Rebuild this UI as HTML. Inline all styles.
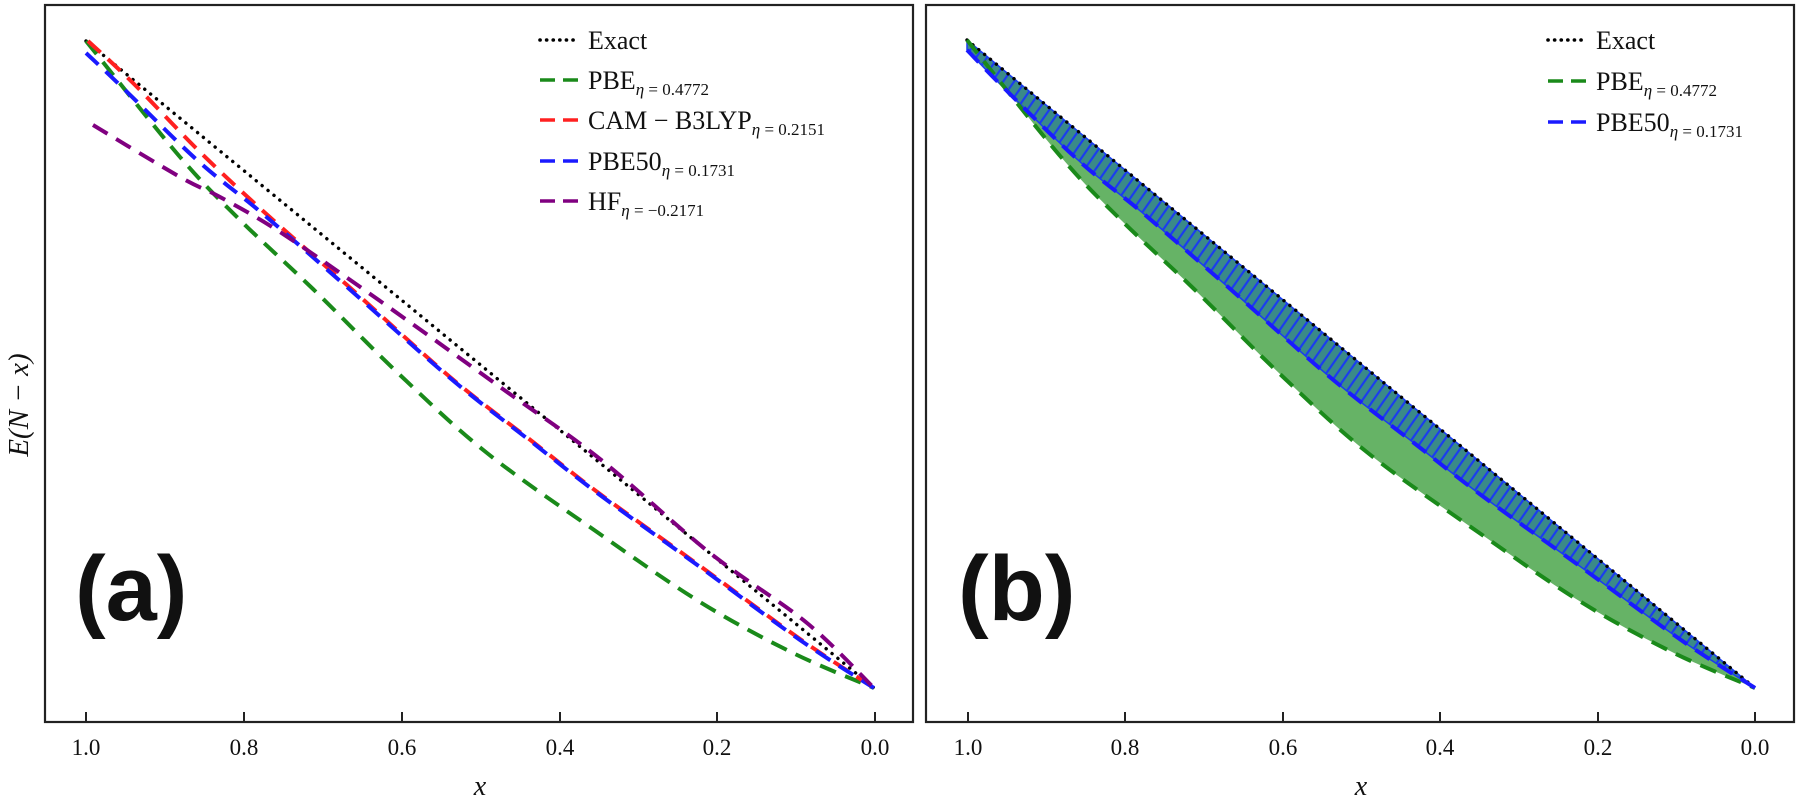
<!DOCTYPE html>
<html><head><meta charset="utf-8">
<style>
html,body{margin:0;padding:0;background:#fff;}
svg{display:block;}
text{font-family:"Liberation Serif",serif;fill:#111;}
</style></head>
<body>
<svg id="s" width="1801" height="799" viewBox="0 0 1801 799" xmlns="http://www.w3.org/2000/svg">
<defs>
<pattern id="hatch" patternUnits="userSpaceOnUse" width="9" height="9" patternTransform="rotate(35)">
<rect width="9" height="9" fill="#3a8a88"/>
<line x1="4.5" y1="0" x2="4.5" y2="9" stroke="#1a3cf0" stroke-width="2.2"/>
</pattern>
<clipPath id="ca"><rect x="45" y="5" width="868" height="717"/></clipPath>
<clipPath id="cb"><rect x="926" y="5" width="868" height="717"/></clipPath>
</defs>
<g id="pa" clip-path="url(#ca)"></g>
<g id="pb" clip-path="url(#cb)"></g>
<rect x="45" y="5" width="868" height="717" fill="none" stroke="#222" stroke-width="2.2"/>
<rect x="926" y="5" width="868" height="717" fill="none" stroke="#222" stroke-width="2.2"/>
<g stroke="#222" stroke-width="2">
<line x1="86" y1="722" x2="86" y2="712"/><line x1="244" y1="722" x2="244" y2="712"/><line x1="402" y1="722" x2="402" y2="712"/><line x1="560" y1="722" x2="560" y2="712"/><line x1="717" y1="722" x2="717" y2="712"/><line x1="875" y1="722" x2="875" y2="712"/>
<line x1="968" y1="722" x2="968" y2="712"/><line x1="1125" y1="722" x2="1125" y2="712"/><line x1="1283" y1="722" x2="1283" y2="712"/><line x1="1440" y1="722" x2="1440" y2="712"/><line x1="1598" y1="722" x2="1598" y2="712"/><line x1="1755" y1="722" x2="1755" y2="712"/>
</g>
<g font-size="23" text-anchor="middle">
<text x="86" y="755">1.0</text><text x="244" y="755">0.8</text><text x="402" y="755">0.6</text><text x="560" y="755">0.4</text><text x="717" y="755">0.2</text><text x="875" y="755">0.0</text>
<text x="968" y="755">1.0</text><text x="1125" y="755">0.8</text><text x="1283" y="755">0.6</text><text x="1440" y="755">0.4</text><text x="1598" y="755">0.2</text><text x="1755" y="755">0.0</text>
</g>
<text x="480" y="795" font-size="28" font-style="italic" text-anchor="middle">x</text>
<text x="1361" y="795" font-size="28" font-style="italic" text-anchor="middle">x</text>
<text transform="translate(28,405) rotate(-90)" font-size="29" font-style="italic" text-anchor="middle">E(N − x)</text>
<text x="75" y="620" font-size="92" font-weight="bold" style="font-family:'Liberation Sans',sans-serif">(a)</text>
<text x="958" y="620" font-size="92" font-weight="bold" style="font-family:'Liberation Sans',sans-serif">(b)</text>
<g stroke-width="3.6" fill="none">
<line x1="540" y1="40" x2="578" y2="40" stroke="#000" stroke-dasharray="0.1 6.5" stroke-linecap="round"/>
<line x1="540" y1="80" x2="578" y2="80" stroke="#1a8a1a" stroke-dasharray="15 8"/>
<line x1="540" y1="120" x2="578" y2="120" stroke="#ff2020" stroke-dasharray="15 8"/>
<line x1="540" y1="161" x2="578" y2="161" stroke="#1a1aff" stroke-dasharray="15 8"/>
<line x1="540" y1="201" x2="578" y2="201" stroke="#800080" stroke-dasharray="15 8"/>
</g>
<g font-size="26">
<text x="588" y="49">Exact</text>
<text x="588" y="89">PBE<tspan font-size="17" font-style="italic" dy="6">η</tspan><tspan font-size="17"> = 0.4772</tspan></text>
<text x="588" y="129">CAM − B3LYP<tspan font-size="17" font-style="italic" dy="6">η</tspan><tspan font-size="17"> = 0.2151</tspan></text>
<text x="588" y="170">PBE50<tspan font-size="17" font-style="italic" dy="6">η</tspan><tspan font-size="17"> = 0.1731</tspan></text>
<text x="588" y="210">HF<tspan font-size="17" font-style="italic" dy="6">η</tspan><tspan font-size="17"> = −0.2171</tspan></text>
</g>
<g stroke-width="3.6" fill="none">
<line x1="1548" y1="40" x2="1586" y2="40" stroke="#000" stroke-dasharray="0.1 6.5" stroke-linecap="round"/>
<line x1="1548" y1="81" x2="1586" y2="81" stroke="#1a8a1a" stroke-dasharray="15 8"/>
<line x1="1548" y1="122" x2="1586" y2="122" stroke="#1a1aff" stroke-dasharray="15 8"/>
</g>
<g font-size="26">
<text x="1596" y="49">Exact</text>
<text x="1596" y="90">PBE<tspan font-size="17" font-style="italic" dy="6">η</tspan><tspan font-size="17"> = 0.4772</tspan></text>
<text x="1596" y="131">PBE50<tspan font-size="17" font-style="italic" dy="6">η</tspan><tspan font-size="17"> = 0.1731</tspan></text>
</g>
</svg>
<script>
function cr(p){var d="M"+p[0][0]+","+p[0][1];for(var i=0;i<p.length-1;i++){var p0=p[i-1]||p[i],p1=p[i],p2=p[i+1],p3=p[i+2]||p2;
var c1=[p1[0]+(p2[0]-p0[0])/6,p1[1]+(p2[1]-p0[1])/6],c2=[p2[0]-(p3[0]-p1[0])/6,p2[1]-(p3[1]-p1[1])/6];
d+=" C"+c1[0].toFixed(1)+","+c1[1].toFixed(1)+" "+c2[0].toFixed(1)+","+c2[1].toFixed(1)+" "+p2[0]+","+p2[1];}return d;}
function rev(p){return p.slice().reverse();}
function sh(p,dx){return p.map(function(q){return [q[0]+dx,q[1]];});}
var G=[[86,41],[180,157],[240,220],[313,289],[400,375],[487,453],[597,532],[700,602],[793,653],[874,688]];
var B=[[86,53],[123,88],[197,160],[263,214],[347,287],[450,378],[533,443],[600,495],[700,567],[800,640],[874,688]];
var R=[[88,41],[133,83],[200,152],[263,211],[347,285],[450,377],[533,442],[600,494],[700,566],[800,639],[874,688]];
var H=[[93,125],[180,177],[220,197],[280,232],[373,296],[500,387],[600,459],[710,553],[807,623],[874,688]];
var E=[[86,41],[874,688]];
var NS="http://www.w3.org/2000/svg";
function path(g,d,st){var e=document.createElementNS(NS,"path");e.setAttribute("d",d);for(var k in st)e.setAttribute(k,st[k]);g.appendChild(e);}
var pa=document.getElementById("pa"),pb=document.getElementById("pb");
function S(c){return {fill:"none","stroke-width":"4","stroke-dasharray":"17 10",stroke:c};}
var dot={fill:"none",stroke:"#000","stroke-width":"3.4","stroke-dasharray":"0.1 7.5","stroke-linecap":"round"};
path(pa,cr(E),dot);
path(pa,cr(G),S("#1a8a1a"));
path(pa,cr(R),S("#ff2020"));
path(pa,cr(B),S("#1a1aff"));
path(pa,cr(H),S("#800080"));
var dx=881,Gb=sh(G,dx),Bb=sh(B,dx),Eb=sh(E,dx);
Gb[0]=[967,40];Bb[0]=[967,50];Eb[0]=[967,40];
function band(lower){return "M967,40 L1755,688 "+cr(rev(lower)).replace(/^M[^ ]+/,"L"+lower[lower.length-1].join(","))+" Z";}
path(pb,band(Gb),{fill:"#66b366",stroke:"none"});
path(pb,band(Bb),{fill:"url(#hatch)",stroke:"#1a3cf0","stroke-width":"1.5"});
path(pb,cr(Eb),dot);
path(pb,cr(Gb),S("#1a8a1a"));
path(pb,cr(Bb),S("#1a1aff"));
</script>
</body></html>
